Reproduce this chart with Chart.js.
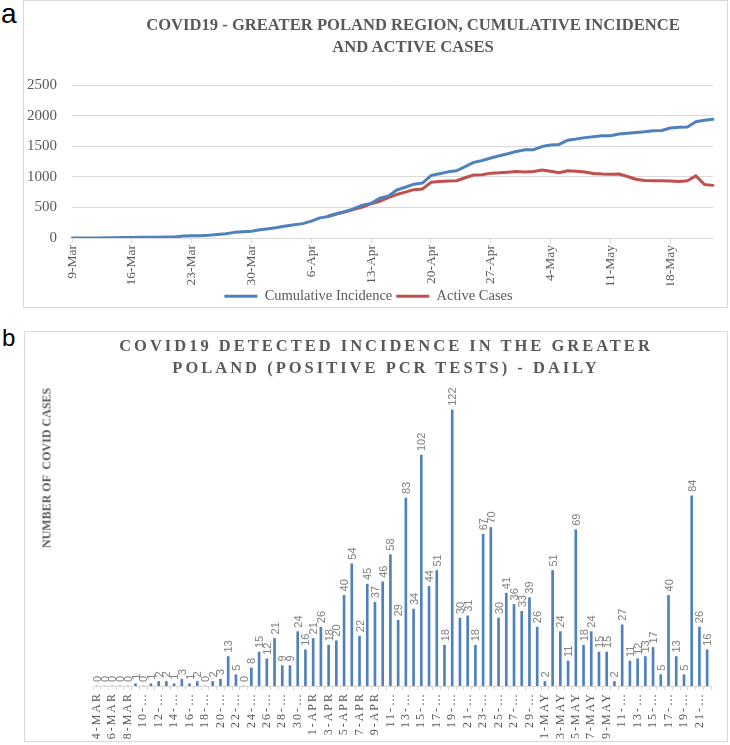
<!DOCTYPE html>
<html lang="en">
<head>
  <meta charset="UTF-8" />
  <title>COVID19 Greater Poland</title>
  <script src="https://cdn.jsdelivr.net/npm/chart.js"></script>
  <style>
    body {
      margin: 0;
      width: 730px;
      height: 745px;
      background: #ffffff;
      position: relative;
      overflow: hidden;
      font-family: "Liberation Serif", serif;
    }
    .panel-letter {
      position: absolute;
      font-family: "Liberation Sans", Arial, sans-serif;
      color: #000;
    }
    .frame {
      position: absolute;
      border: 1px solid #d9d9d9;
      box-sizing: border-box;
    }
    .frame canvas { position: absolute; left: 0; top: 0; }
    .title {
      position: absolute;
      text-align: center;
      font-weight: bold;
      color: #595959;
      line-height: 22px;
      white-space: nowrap;
    }
    .axis-title {
      position: absolute;
      font-weight: bold;
      font-size: 12px;
      color: #595959;
      white-space: pre;
      transform: translate(-50%, -50%) rotate(-90deg);
    }
  </style>
</head>
<body>
  <div class="panel-letter" style="left:1px;top:0px;font-size:28px;line-height:28px;">a</div>
  <div class="frame" style="left:23px;top:0;width:705px;height:308px;">
    <canvas id="cumChart" width="703" height="306"></canvas>
  </div>
  <div class="title" style="left:113px;top:14px;width:600px;font-size:16.6px;">
    COVID19 - GREATER POLAND REGION, CUMULATIVE INCIDENCE<br>AND ACTIVE CASES
  </div>

  <div class="panel-letter" style="left:2px;top:326px;font-size:24px;line-height:24px;">b</div>
  <div class="frame" style="left:24px;top:331px;width:704px;height:411px;">
    <canvas id="dailyChart" width="702" height="409"></canvas>
  </div>
  <div class="title" style="left:86px;top:335px;width:600px;font-size:16.5px;letter-spacing:3px;">
    COVID19 DETECTED INCIDENCE IN THE GREATER<br>POLAND (POSITIVE PCR TESTS) - DAILY
  </div>
  <div class="axis-title" style="left:47px;top:468px;">NUMBER OF  COVID CASES</div>

<script>
  // ---- panel a: cumulative incidence / active cases (9 Mar - 23 May) ----
  const lineDates = [
    '9-Mar','10-Mar','11-Mar','12-Mar','13-Mar','14-Mar','15-Mar','16-Mar','17-Mar','18-Mar',
    '19-Mar','20-Mar','21-Mar','22-Mar','23-Mar','24-Mar','25-Mar','26-Mar','27-Mar','28-Mar',
    '29-Mar','30-Mar','31-Mar',
    '1-Apr','2-Apr','3-Apr','4-Apr','5-Apr','6-Apr','7-Apr','8-Apr','9-Apr','10-Apr',
    '11-Apr','12-Apr','13-Apr','14-Apr','15-Apr','16-Apr','17-Apr','18-Apr','19-Apr','20-Apr',
    '21-Apr','22-Apr','23-Apr','24-Apr','25-Apr','26-Apr','27-Apr','28-Apr','29-Apr','30-Apr',
    '1-May','2-May','3-May','4-May','5-May','6-May','7-May','8-May','9-May','10-May',
    '11-May','12-May','13-May','14-May','15-May','16-May','17-May','18-May','19-May','20-May',
    '21-May','22-May','23-May'
  ];

  const cumulativeIncidence = [
    0, 1, 1, 2, 4, 6, 7, 10, 11, 13,
    13, 15, 18, 31, 36, 36, 44, 59, 71, 92,
    101, 110, 134,
    150, 171, 197, 215, 235, 275, 329, 351, 396, 433,
    479, 537, 566, 649, 683, 785, 829, 880, 898, 1020,
    1050, 1081, 1099, 1166, 1236, 1266, 1307, 1343, 1376, 1415,
    1441, 1443, 1494, 1518, 1529, 1598, 1616, 1640, 1655, 1670,
    1672, 1699, 1710, 1722, 1735, 1752, 1757, 1797, 1810, 1815,
    1899, 1925, 1941
  ];

  const activeCases = [
    null, null, null, null, null, null, null, null, null, null,
    null, null, null, null, null, null, null, null, null, null,
    null, null, null,
    null, null, null, null, null, null, null, 360, 395, 430,
    470, 505, 560, 600, 660, 710, 750, 790, 800, 910,
    925, 930, 935, 985, 1030, 1035, 1060, 1065, 1075, 1085,
    1080, 1085, 1110, 1090, 1065, 1098, 1090, 1080, 1055, 1045,
    1040, 1045, 1005, 960, 940, 935, 935, 930, 925, 935,
    1015, 875, 860
  ];

  const yTicksA = [0, 500, 1000, 1500, 2000, 2500];

  // ---- panel b: daily positive PCR tests (4 Mar - 22 May) ----
  const dailyDates = [
    '4-MAR','5-MAR','6-MAR','7-MAR','8-MAR','9-MAR','10-MAR','11-MAR','12-MAR','13-MAR',
    '14-MAR','15-MAR','16-MAR','17-MAR','18-MAR','19-MAR','20-MAR','21-MAR','22-MAR','23-MAR',
    '24-MAR','25-MAR','26-MAR','27-MAR','28-MAR','29-MAR','30-MAR','31-MAR',
    '1-APR','2-APR','3-APR','4-APR','5-APR','6-APR','7-APR','8-APR','9-APR','10-APR',
    '11-APR','12-APR','13-APR','14-APR','15-APR','16-APR','17-APR','18-APR','19-APR','20-APR',
    '21-APR','22-APR','23-APR','24-APR','25-APR','26-APR','27-APR','28-APR','29-APR','30-APR',
    '1-MAY','2-MAY','3-MAY','4-MAY','5-MAY','6-MAY','7-MAY','8-MAY','9-MAY','10-MAY',
    '11-MAY','12-MAY','13-MAY','14-MAY','15-MAY','16-MAY','17-MAY','18-MAY','19-MAY','20-MAY',
    '21-MAY','22-MAY'
  ];

  const dailyCases = [
    0, 0, 0, 0, 0, 1, 0, 1, 2, 2,
    1, 3, 1, 2, 0, 2, 3, 13, 5, 0,
    8, 15, 12, 21, 9, 9, 24, 16,
    21, 26, 18, 20, 40, 54, 22, 45, 37, 46,
    58, 29, 83, 34, 102, 44, 51, 18, 122, 30,
    31, 18, 67, 70, 30, 41, 36, 33, 39, 26,
    2, 51, 24, 11, 69, 18, 24, 15, 15, 2,
    27, 11, 12, 13, 17, 5, 40, 13, 5, 84,
    26, 16
  ];

  const serif = '"Liberation Serif", serif';
  const gridGray = '#d9d9d9';
  const textGray = '#595959';

  new Chart(document.getElementById('cumChart'), {
    type: 'line',
    data: {
      labels: lineDates,
      datasets: [{
        label: 'Cumulative Incidence',
        data: cumulativeIncidence,
        borderColor: '#4F81BD',
        backgroundColor: '#4F81BD',
        borderWidth: 3,
        pointRadius: 0,
        borderJoinStyle: 'round',
        borderCapStyle: 'round'
      }, {
        label: 'Active Cases',
        data: activeCases,
        borderColor: '#C0504D',
        backgroundColor: '#C0504D',
        borderWidth: 3,
        pointRadius: 0,
        borderJoinStyle: 'round',
        borderCapStyle: 'round'
      }]
    },
    options: {
      responsive: false,
      animation: false,
      layout: { padding: { top: 84, right: 14, left: 0, bottom: 0 } },
      plugins: {
        tooltip: { enabled: false },
        legend: {
          position: 'bottom',
          maxHeight: 22,
          labels: {
            usePointStyle: true,
            pointStyle: 'line',
            pointStyleWidth: 33,
            padding: 4,
            color: textGray,
            font: { family: serif, size: 14.5 }
          }
        }
      },
      scales: {
        x: {
          grid: { drawOnChartArea: false, tickLength: 5, color: gridGray },
          border: { color: gridGray },
          ticks: {
            autoSkip: false,
            minRotation: 90,
            maxRotation: 90,
            padding: 2,
            color: textGray,
            font: { family: serif, size: 13.5 },
            callback: (v, i) => (i % 7 === 0 ? lineDates[i] : null)
          },
          afterFit: s => { s.height = 47; }
        },
        y: {
          min: 0,
          max: 2500,
          afterBuildTicks: s => { s.ticks = yTicksA.map(v => ({ value: v })); },
          grid: { color: gridGray, drawTicks: false },
          border: { display: false },
          ticks: {
            padding: 15,
            color: textGray,
            font: { family: serif, size: 15 },
            callback: v => String(v)
          },
          afterFit: s => { s.width = 48; }
        }
      }
    }
  });

  // spaced tick text for the daily chart, numbers on top of each bar
  const barLabels = {
    id: 'barLabels',
    beforeDraw(chart) {
      chart.ctx.letterSpacing = '2px';
    },
    afterDatasetsDraw(chart) {
      const ctx = chart.ctx;
      const meta = chart.getDatasetMeta(0);
      ctx.save();
      ctx.letterSpacing = '0px';
      ctx.font = '11px "Liberation Sans", sans-serif';
      ctx.fillStyle = '#808080';
      ctx.textAlign = 'left';
      ctx.textBaseline = 'middle';
      meta.data.forEach((bar, i) => {
        ctx.save();
        ctx.translate(bar.x + 1, bar.y - 4);
        ctx.rotate(-Math.PI / 2);
        ctx.fillText(String(dailyCases[i]), 0, 0);
        ctx.restore();
      });
      ctx.restore();
    }
  };

  new Chart(document.getElementById('dailyChart'), {
    type: 'bar',
    data: {
      labels: dailyDates,
      datasets: [{
        label: 'Daily cases',
        data: dailyCases,
        backgroundColor: '#4F81BD',
        barThickness: 2
      }]
    },
    options: {
      responsive: false,
      animation: false,
      layout: { padding: { top: 37, right: 16, left: 68, bottom: 0 } },
      plugins: { legend: { display: false }, tooltip: { enabled: false } },
      scales: {
        x: {
          grid: { drawOnChartArea: false, tickLength: 4, color: gridGray },
          border: { color: gridGray },
          ticks: {
            autoSkip: false,
            minRotation: 90,
            maxRotation: 90,
            padding: 2,
            color: textGray,
            font: { family: serif, size: 12 },
            callback: (v, i) => {
              if (i % 2) return '';
              const d = dailyDates[i];
              return d.length > 5 ? d.slice(0, 3) + '…' : d;
            }
          },
          afterFit: s => { s.height = 55; }
        },
        y: { display: false, min: 0, max: 140 }
      }
    },
    plugins: [barLabels]
  });
</script>
</body>
</html>
